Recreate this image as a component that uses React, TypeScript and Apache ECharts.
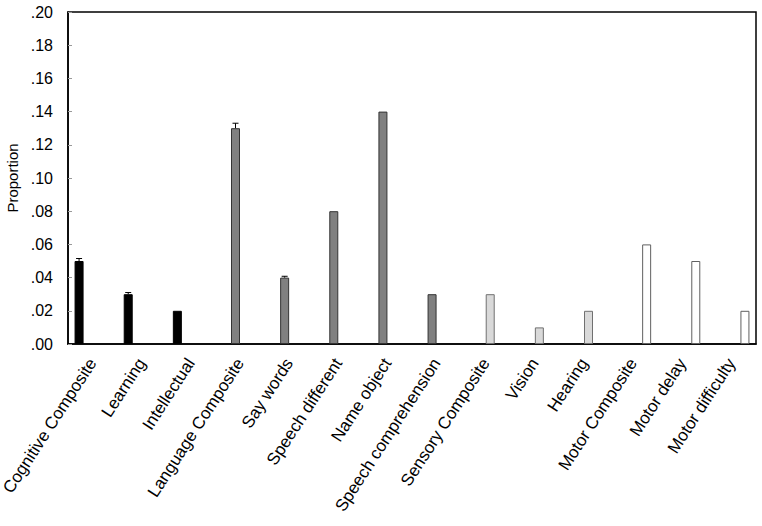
import React, { useEffect, useRef } from "react";
import * as echarts from "echarts";

const categories = [
  "Cognitive Composite", "Learning", "Intellectual",
  "Language Composite", "Say words", "Speech different", "Name object", "Speech comprehension",
  "Sensory Composite", "Vision", "Hearing",
  "Motor Composite", "Motor delay", "Motor difficulty",
];

const cognitive = [0.05, 0.03, 0.02, null, null, null, null, null, null, null, null, null, null, null];
const language = [null, null, null, 0.13, 0.04, 0.08, 0.14, 0.03, null, null, null, null, null, null];
const sensory = [null, null, null, null, null, null, null, null, 0.03, 0.01, 0.02, null, null, null];
const motor = [null, null, null, null, null, null, null, null, null, null, null, 0.06, 0.05, 0.02];

// error bars: [category index, group index, value, upper]
const errorBars = [
  [0, 0, 0.05, 0.0515],
  [1, 0, 0.03, 0.031],
  [3, 1, 0.13, 0.133],
  [4, 1, 0.04, 0.0408],
];

const yTicks = [0, 0.02, 0.04, 0.06, 0.08, 0.1, 0.12, 0.14, 0.16, 0.18, 0.2];

export default function App() {
  const ref = useRef<HTMLDivElement>(null);
  useEffect(() => {
    const chart = echarts.init(ref.current!, null, { renderer: "svg" });
    const BW = 9;
    const font = "Liberation Sans, Arial, sans-serif";
    const barSeries = (data: any[], color: string, border: string) => ({
      type: "bar",
      data,
      barWidth: BW,
      barGap: "0%",
      itemStyle: { color, borderColor: border, borderWidth: 1 },
    });
    chart.setOption({
      animation: false,
      grid: {
        left: 68, right: 6, top: 12, bottom: 182,
        show: true, borderColor: "#000", borderWidth: 1.5,
        containLabel: false, outerBoundsMode: "none",
      },
      xAxis: {
        type: "category",
        data: categories,
        axisLine: { lineStyle: { color: "#000", width: 1.5 } },
        axisTick: { show: false },
        axisLabel: { rotate: 57, fontSize: 17, color: "#000", fontFamily: font, interval: 0, margin: 16 },
      },
      yAxis: {
        type: "value",
        min: 0,
        max: 0.2,
        interval: 0.02,
        name: "Proportion",
        nameLocation: "middle",
        nameGap: 48,
        nameTextStyle: { fontSize: 15, color: "#000", fontFamily: font },
        axisLine: { show: true, lineStyle: { color: "#000", width: 1.5 } },
        axisTick: { show: true, inside: true, length: 4, lineStyle: { color: "#999" } },
        splitLine: { show: false },
        axisLabel: {
          fontSize: 16,
          color: "#000",
          fontFamily: font,
          margin: 15,
          formatter: (v: number) => {
            const t = yTicks.find((y) => Math.abs(y - v) < 1e-9);
            return (t ?? v).toFixed(2).replace(/^0/, "");
          },
        },
      },
      series: [
        barSeries(cognitive, "#000000", "#000000"),
        barSeries(language, "#808080", "#333333"),
        barSeries(sensory, "#d9d9d9", "#707070"),
        barSeries(motor, "#ffffff", "#606060"),
        {
          type: "custom",
          data: errorBars,
          z: 5,
          renderItem: (params: any, api: any) => {
            const idx = api.value(0);
            const g = api.value(1);
            const off = (g - 1.5) * BW;
            const p0 = api.coord([idx, api.value(2)]);
            const p1 = api.coord([idx, api.value(3)]);
            const x = p0[0] + off;
            const style = { stroke: "#000", lineWidth: 1 };
            return {
              type: "group",
              children: [
                { type: "line", shape: { x1: x, y1: p0[1], x2: x, y2: p1[1] }, style },
                { type: "line", shape: { x1: x - 3, y1: p1[1], x2: x + 3, y2: p1[1] }, style },
              ],
            };
          },
        },
      ],
    });
    return () => chart.dispose();
  }, []);
  return <div ref={ref} style={{ width: 762, height: 526, position: "absolute", left: 0, top: 0 }} />;
}
